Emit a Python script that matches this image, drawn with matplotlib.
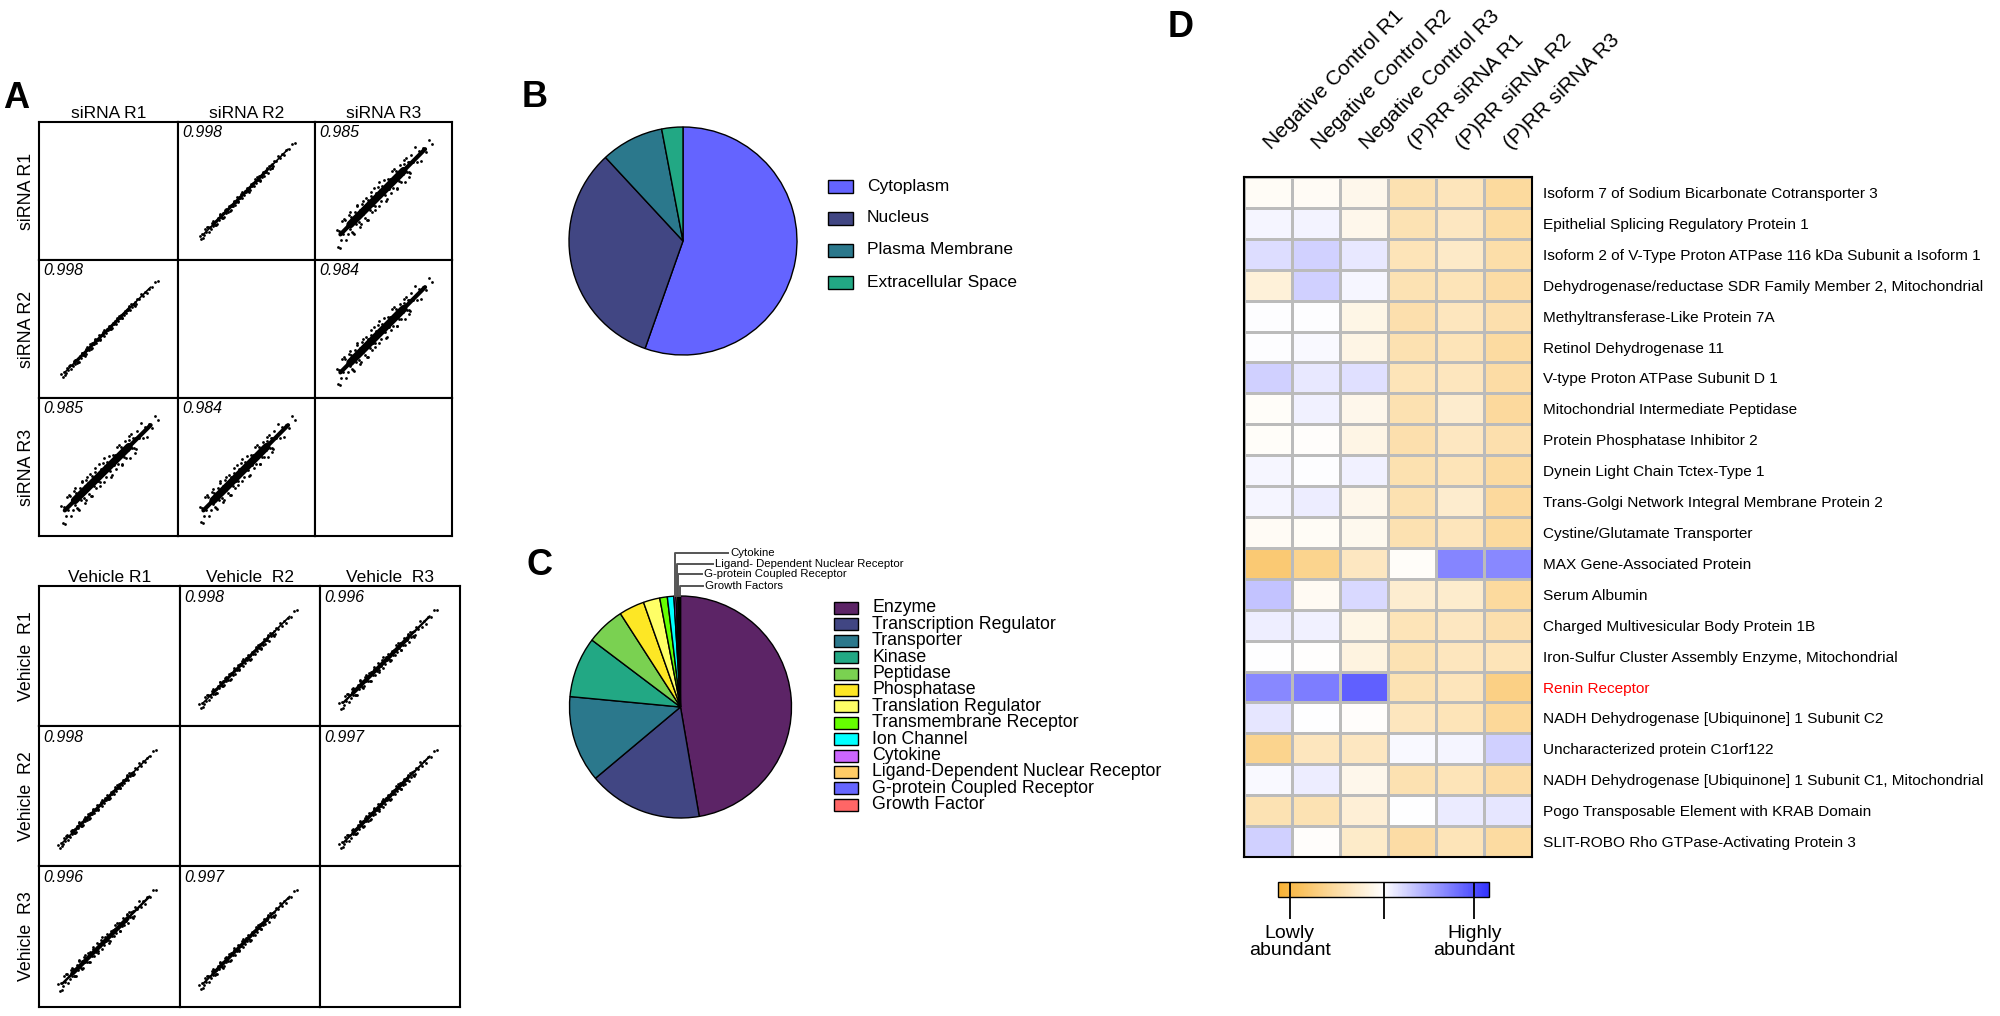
import numpy as np
import matplotlib.pyplot as plt
from matplotlib.colors import LinearSegmentedColormap
from matplotlib.patches import Rectangle
from matplotlib.transforms import ScaledTranslation

plt.rcParams['font.family'] = ['Liberation Sans', 'DejaVu Sans']
NARROW = ['Liberation Sans Narrow', 'Liberation Sans']

W, H = 2000, 1016

# ---------------- panel A: replicate scatter matrices ----------------
sirna_labels = ['siRNA R1', 'siRNA R2', 'siRNA R3']
vehicle_cols = ['Vehicle R1', 'Vehicle  R2', 'Vehicle  R3']
vehicle_rows = ['Vehicle  R1', 'Vehicle  R2', 'Vehicle  R3']
sirna_corr = [[None, 0.998, 0.985], [0.998, None, 0.984], [0.985, 0.984, None]]
vehicle_corr = [[None, 0.998, 0.996], [0.998, None, 0.997], [0.996, 0.997, None]]
# half width of each point cloud (axis units 0-10) and of its dense core (pt)
sirna_spread = [[0, 0.25, 0.95], [0.22, 0, 0.9], [0.95, 0.9, 0]]
sirna_core = [[0, 2.2, 5.5], [2.2, 0, 5.5], [5.5, 5.5, 0]]
vehicle_spread = [[0, 0.28, 0.4], [0.25, 0, 0.32], [0.45, 0.32, 0]]
vehicle_core = [[0, 2.2, 3.0], [2.2, 0, 2.6], [3.2, 2.6, 0]]
sirna_range = (1.5, 8.6)
vehicle_range = (1.3, 8.4)

# position along the diagonal (0-1) and offset across it (-1..1) of the cloud points
t_pts = [0.01, 0.03, 0.04, 0.06, 0.07, 0.08, 0.10, 0.11, 0.12, 0.13, 0.14, 0.15, 0.16, 0.17, 0.18, 0.19, 0.20, 0.21, 0.22, 0.23,
         0.24, 0.25, 0.26, 0.27, 0.28, 0.29, 0.30, 0.31, 0.32, 0.33, 0.34, 0.35, 0.36, 0.37, 0.38, 0.39, 0.40, 0.41, 0.42, 0.43,
         0.44, 0.45, 0.46, 0.47, 0.48, 0.49, 0.50, 0.51, 0.52, 0.53, 0.54, 0.55, 0.56, 0.57, 0.58, 0.59, 0.60, 0.61, 0.62, 0.63,
         0.64, 0.65, 0.66, 0.67, 0.68, 0.69, 0.70, 0.71, 0.72, 0.73, 0.74, 0.75, 0.76, 0.77, 0.78, 0.80, 0.82, 0.84, 0.86, 0.88,
         0.90, 0.93, 0.96, 0.99, 0.05, 0.09, 0.15, 0.18, 0.22, 0.25, 0.28, 0.33, 0.36, 0.41, 0.45, 0.52, 0.58, 0.63, 0.70, 0.76]
off_pts = [0.6, -0.8, 0.3, -0.5, 0.9, -0.2, 0.7, -0.9, 0.1, -0.6, 0.8, -0.3, 0.5, -0.7, 0.2, -1.0, 0.6, -0.4, 0.9, -0.1,
           -0.5, 0.4, -0.8, 0.7, -0.2, 0.3, -0.6, 0.8, -0.9, 0.5, 0.1, -0.4, 0.6, -0.7, 0.2, -0.3, 0.9, -0.5, 0.4, -0.1,
           0.7, -0.8, 0.3, -0.6, 0.5, -0.2, 0.8, -0.4, 0.1, -0.9, 0.6, -0.3, 0.4, -0.7, 0.2, -0.5, 0.9, -0.1, 0.6, -0.8,
           0.3, -0.4, 0.7, -0.6, 0.1, -0.2, 0.5, -0.9, 0.8, -0.3, 0.4, -0.5, 0.2, -0.7, 0.6, -0.1, 0.9, -0.4, 0.3, -0.6,
           0.2, -0.3, 0.4, -0.1, -1.0, 0.9, 0.95, -0.85, 1.0, -0.9, 0.85, -1.0, 0.95, -0.8, 1.0, -0.95, 0.9, -0.85, 0.8, -0.9]

# ---------------- panel B: subcellular location ----------------
loc_labels = ['Cytoplasm', 'Nucleus', 'Plasma Membrane', 'Extracellular Space']
loc_values = [55.4, 32.7, 8.9, 3.0]
loc_colors = ['#6464FF', '#414683', '#2B788C', '#22A884']

# ---------------- panel C: protein type ----------------
type_labels = ['Enzyme', 'Transcription Regulator', 'Transporter', 'Kinase', 'Peptidase', 'Phosphatase',
               'Translation Regulator', 'Transmembrane Receptor', 'Ion Channel', 'Cytokine',
               'Ligand-Dependent Nuclear Receptor', 'G-protein Coupled Receptor', 'Growth Factor']
type_values = [47.3, 16.6, 12.6, 8.8, 5.6, 3.7, 2.4, 1.1, 0.95, 0.3, 0.25, 0.2, 0.2]
type_colors = ['#5C2466', '#414683', '#2B788C', '#22A884', '#7AD151', '#FDE725', '#FFFF66', '#66FF00',
               '#00FFFF', '#CC66FF', '#FFCC66', '#6666FF', '#FF6666']
callout_labels = ['Cytokine', 'Ligand- Dependent Nuclear Receptor', 'G-protein Coupled Receptor', 'Growth Factors']

# ---------------- panel D: heatmap ----------------
hm_cols = ['Negative Control R1', 'Negative Control R2', 'Negative Control R3',
           '(P)RR siRNA R1', '(P)RR siRNA R2', '(P)RR siRNA R3']
hm_rows = ['Isoform 7 of Sodium Bicarbonate Cotransporter 3',
           'Epithelial Splicing Regulatory Protein 1',
           'Isoform 2 of V-Type Proton ATPase 116 kDa Subunit a Isoform 1',
           'Dehydrogenase/reductase SDR Family Member 2, Mitochondrial',
           'Methyltransferase-Like Protein 7A',
           'Retinol Dehydrogenase 11',
           'V-type Proton ATPase Subunit D 1',
           'Mitochondrial Intermediate Peptidase',
           'Protein Phosphatase Inhibitor 2',
           'Dynein Light Chain Tctex-Type 1',
           'Trans-Golgi Network Integral Membrane Protein 2',
           'Cystine/Glutamate Transporter',
           'MAX Gene-Associated Protein',
           'Serum Albumin',
           'Charged Multivesicular Body Protein 1B',
           'Iron-Sulfur Cluster Assembly Enzyme, Mitochondrial',
           'Renin Receptor',
           'NADH Dehydrogenase [Ubiquinone] 1 Subunit C2',
           'Uncharacterized protein C1orf122',
           'NADH Dehydrogenase [Ubiquinone] 1 Subunit C1, Mitochondrial',
           'Pogo Transposable Element with KRAB Domain',
           'SLIT-ROBO Rho GTPase-Activating Protein 3']
hm_values = [
    [-0.04, -0.05, -0.10, -0.38, -0.33, -0.47],
    [0.05, 0.06, -0.10, -0.37, -0.30, -0.45],
    [0.17, 0.22, 0.11, -0.35, -0.27, -0.42],
    [-0.18, 0.23, 0.04, -0.37, -0.35, -0.44],
    [0.01, 0.01, -0.12, -0.40, -0.32, -0.40],
    [0.01, 0.03, -0.13, -0.38, -0.35, -0.46],
    [0.23, 0.11, 0.15, -0.35, -0.32, -0.44],
    [-0.03, 0.07, -0.10, -0.38, -0.24, -0.48],
    [-0.03, -0.02, -0.13, -0.40, -0.30, -0.40],
    [0.04, 0.01, 0.07, -0.39, -0.35, -0.46],
    [0.05, 0.09, -0.10, -0.38, -0.24, -0.48],
    [-0.05, -0.04, -0.08, -0.38, -0.33, -0.47],
    [-0.68, -0.55, -0.30, -0.03, 0.60, 0.58],
    [0.29, -0.06, 0.18, -0.23, -0.25, -0.47],
    [0.08, 0.07, -0.12, -0.35, -0.30, -0.40],
    [0.00, -0.01, -0.15, -0.37, -0.32, -0.35],
    [0.58, 0.64, 0.78, -0.37, -0.33, -0.60],
    [0.12, 0.00, -0.02, -0.32, -0.35, -0.50],
    [-0.55, -0.32, -0.30, 0.03, 0.05, 0.23],
    [0.03, 0.09, -0.10, -0.38, -0.35, -0.44],
    [-0.37, -0.37, -0.20, 0.00, 0.10, 0.12],
    [0.23, -0.02, -0.26, -0.44, -0.35, -0.46],
]
highlight_row = 'Renin Receptor'
cbar_ticks = [-0.89, 0.0, 0.86]
cbar_labels = ['Lowly\nabundant', '', 'Highly\nabundant']

cmap = LinearSegmentedColormap.from_list('abund', ['#F8B133', '#FFFFFF', '#3333FF'])


def box(x0, y0, x1, y1):
    return [x0 / W, 1 - y1 / H, (x1 - x0) / W, (y1 - y0) / H]


fig = plt.figure(figsize=(20, 10.16), dpi=100)


def draw_grid(xe, ye, rows, cols, corr, spread, core, rng):
    t = np.array(t_pts)
    off = np.array(off_pts)
    for i in range(3):
        for j in range(3):
            ax = fig.add_axes(box(xe[j], ye[i], xe[j + 1], ye[i + 1]))
            ax.set_xlim(0, 10)
            ax.set_ylim(0, 10)
            ax.set_xticks([])
            ax.set_yticks([])
            for sp in ax.spines.values():
                sp.set_linewidth(1.5)
            if i == 0:
                ax.set_title(cols[j], fontsize=12.5, pad=3)
            if j == 0:
                ax.set_ylabel(rows[i], fontsize=12.8, labelpad=3)
            if corr[i][j] is None:
                continue
            lo, hi = rng
            x = lo + t * (hi - lo)
            y = x + off * spread[i][j]
            span = hi - lo
            # tapered dense core: a thin full-length stroke and a thicker middle stroke
            ax.plot([lo + 0.05 * span, hi - 0.08 * span], [lo + 0.05 * span, hi - 0.08 * span],
                    color='black', lw=core[i][j] * 0.55, solid_capstyle='round')
            ax.plot([lo + 0.15 * span, hi - 0.3 * span], [lo + 0.15 * span, hi - 0.3 * span],
                    color='black', lw=core[i][j], solid_capstyle='round')
            ax.scatter(x, y, s=4, color='black', linewidths=0)
            ax.text(0.03, 0.975, f'{corr[i][j]:.3f}', transform=ax.transAxes,
                    ha='left', va='top', style='italic', fontsize=11.5)


draw_grid([39, 178, 315, 452], [122, 260, 398, 536], sirna_labels, sirna_labels,
          sirna_corr, sirna_spread, sirna_core, sirna_range)
draw_grid([39, 180, 320, 460], [586, 726, 866, 1007], vehicle_rows, vehicle_cols,
          vehicle_corr, vehicle_spread, vehicle_core, vehicle_range)

# ---------------- panel B pie ----------------
axb = fig.add_axes(box(569, 127, 797, 355))
axb.pie(loc_values, colors=loc_colors, startangle=90, counterclock=False,
        wedgeprops=dict(edgecolor='black', linewidth=1))
axb.set_xlim(-1, 1)
axb.set_ylim(-1, 1)

# ---------------- panel C pie ----------------
axc = fig.add_axes(box(569, 596, 792, 818))
wedges, _ = axc.pie(type_values, colors=type_colors, startangle=90, counterclock=False,
                    wedgeprops=dict(edgecolor='black', linewidth=1))
axc.set_xlim(-1, 1)
axc.set_ylim(-1, 1)
label_y = [1.39, 1.29, 1.20, 1.09]
label_x = [0.43, 0.29, 0.19, 0.20]
for w, lab, ly, lx in zip(wedges[-4:], callout_labels, label_y, label_x):
    a = np.deg2rad((w.theta1 + w.theta2) / 2)
    px_, py_ = np.cos(a), np.sin(a)
    axc.plot([px_, px_, lx], [py_, ly, ly], color='#555555', lw=1.4, clip_on=False)
    axc.text(lx + 0.02, ly, lab, fontsize=8.2, family=NARROW, va='center', ha='left')

# ---------------- panel D heatmap ----------------
axh = fig.add_axes(box(1244, 177, 1532, 857))
vals = np.array(hm_values)
mesh = axh.pcolormesh(vals, cmap=cmap, vmin=-1, vmax=1, edgecolors='#BBBBBB', linewidth=1)
axh.set_xlim(0, len(hm_cols))
axh.set_ylim(len(hm_rows), 0)
for sp in axh.spines.values():
    sp.set_linewidth(1.5)
axh.yaxis.tick_right()
axh.set_yticks(np.arange(len(hm_rows)) + 0.5)
axh.set_yticklabels(hm_rows, fontsize=11.1)
axh.tick_params(axis='y', length=0, pad=8)
for lab in axh.get_yticklabels():
    if lab.get_text() == highlight_row:
        lab.set_color('red')
axh.xaxis.tick_top()
axh.set_xticks(np.arange(len(hm_cols)) + 0.5)
axh.set_xticklabels(hm_cols, fontsize=15, rotation=45, ha='left', va='baseline',
                    rotation_mode='anchor')
axh.tick_params(axis='x', length=0, pad=19)
shift = ScaledTranslation(3 / 100, 0, fig.dpi_scale_trans)
for lab in axh.get_xticklabels():
    lab.set_transform(lab.get_transform() + shift)

cax = fig.add_axes(box(1278, 882, 1489, 897))
cb = fig.colorbar(mesh, cax=cax, orientation='horizontal')
cb.outline.set_linewidth(1)
cax.set_xticks([])
tr = cax.get_xaxis_transform()
cax.vlines(cbar_ticks, -1.47, 1, transform=tr, color='black', lw=1.3, clip_on=False)
for v, lab in zip(cbar_ticks, cbar_labels):
    cax.text(v, -1.85, lab, transform=tr, ha='center', va='top', fontsize=14, linespacing=1.05)

# ---------------- overlay: panel letters and legends ----------------
ov = fig.add_axes([0, 0, 1, 1], zorder=10)
ov.set_xlim(0, W)
ov.set_ylim(H, 0)
ov.axis('off')
for letter, x, y in [('A', 3, 108), ('B', 522, 107), ('C', 526, 575), ('D', 1168, 37)]:
    ov.text(x, y, letter, fontsize=26, fontweight='bold', ha='left', va='baseline')

for i, (lab, col) in enumerate(zip(loc_labels, loc_colors)):
    yc = 186 + 32 * i
    ov.add_patch(Rectangle((828, yc - 6.5), 25, 13, facecolor=col, edgecolor='black', lw=1))
    ov.text(867, yc, lab, fontsize=12.5, va='center', ha='left')

for i, (lab, col) in enumerate(zip(type_labels, type_colors)):
    yc = 608 + 16.4 * i
    ov.add_patch(Rectangle((834, yc - 6), 24, 12, facecolor=col, edgecolor='black', lw=1))
    ov.text(872, yc, lab, fontsize=12.8, va='center', ha='left')

fig.savefig('out.png', dpi=100)
